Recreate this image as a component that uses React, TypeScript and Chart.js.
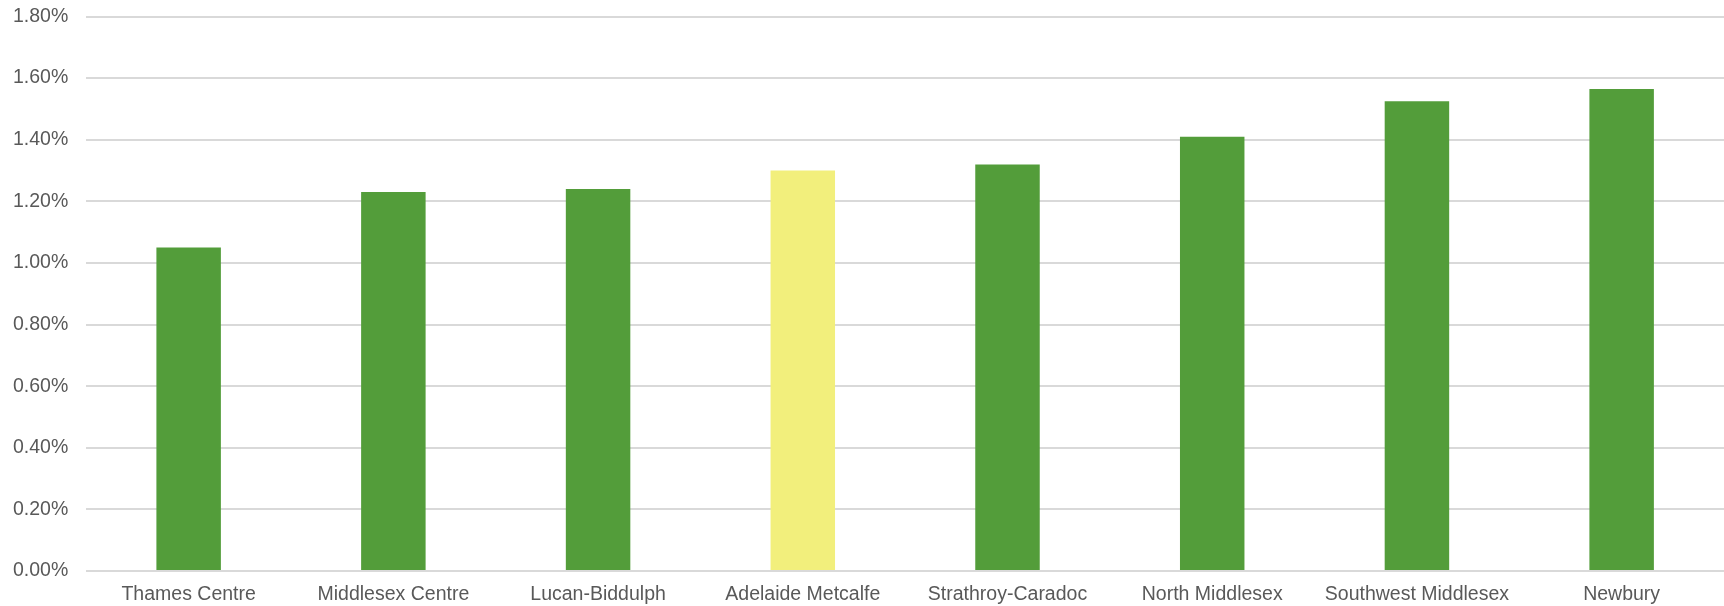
import React, { useEffect, useRef } from "react";
import { Chart, registerables } from "chart.js";

Chart.register(...registerables);

const categories = [
  "Thames Centre",
  "Middlesex Centre",
  "Lucan-Biddulph",
  "Adelaide Metcalfe",
  "Strathroy-Caradoc",
  "North Middlesex",
  "Southwest Middlesex",
  "Newbury",
];
const values = [1.05, 1.23, 1.24, 1.3, 1.32, 1.41, 1.525, 1.565];
const highlight = "Adelaide Metcalfe";
const GREEN = "#539D3A";
const YELLOW = "#F2EF7C";
const FONT = "'Liberation Sans', Arial, sans-serif";

export default function App() {
  const ref = useRef<HTMLCanvasElement>(null);
  useEffect(() => {
    document.body.style.margin = "0";
    const ctx = ref.current!;
    const chart = new Chart(ctx, {
      type: "bar",
      data: {
        labels: categories,
        datasets: [
          {
            data: values,
            backgroundColor: categories.map((c) => (c === highlight ? YELLOW : GREEN)),
            barPercentage: 1,
            categoryPercentage: 0.315,
          },
        ],
      },
      options: {
        animation: false,
        responsive: false,
        maintainAspectRatio: false,
        layout: { padding: { top: 16.5, left: 13, right: 0, bottom: 0 } },
        plugins: { legend: { display: false }, tooltip: { enabled: false } },
        scales: {
          x: {
            grid: {
              display: false,
              drawTicks: true,
              tickLength: 11.5,
              tickColor: "rgba(0,0,0,0)",
            },
            border: { display: false },
            ticks: {
              color: "#595959",
              font: { family: FONT, size: 19.5 },
              padding: 0,
              maxRotation: 0,
              autoSkip: false,
            },
          },
          y: {
            min: 0,
            max: 1.8,
            grid: {
              color: "#D9D9D9",
              lineWidth: 2,
              drawTicks: true,
              tickLength: 18,
              tickColor: "rgba(0,0,0,0)",
            },
            border: { display: false },
            ticks: {
              stepSize: 0.2,
              color: "#595959",
              font: { family: FONT, size: 19.5 },
              padding: 0,
              callback: (v: any) => Number(v).toFixed(2) + "%",
            },
          },
        },
      },
    });
    return () => chart.destroy();
  }, []);
  return (
    <div style={{ width: 1724, height: 606 }}>
      <canvas ref={ref} width={1724} height={606} style={{ display: "block" }} />
    </div>
  );
}
